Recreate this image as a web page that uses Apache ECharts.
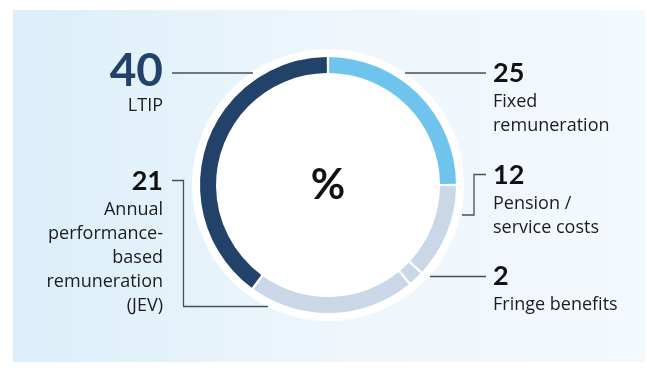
<!DOCTYPE html>
<html>
<head>
<meta charset="utf-8">
<script src="https://cdn.jsdelivr.net/npm/echarts@6/dist/echarts.min.js"></script>
<style>
  html, body { margin: 0; padding: 0; background: #ffffff; }
  #chart { width: 647px; height: 370px; }
</style>
</head>
<body>
<div id="chart"></div>
<script>
// Remuneration components, share of total (%), clockwise from 12 o'clock
const categories = ['Fixed remuneration', 'Pension / service costs', 'Fringe benefits',
                    'Annual performance-based remuneration (JEV)', 'LTIP'];
const values = [25, 12, 2, 21, 40];
// Caption lines printed beside each value
const captionLines = [
  ['Fixed', 'remuneration'],
  ['Pension /', 'service costs'],
  ['Fringe benefits'],
  ['Annual', 'performance-', 'based', 'remuneration', '(JEV)'],
  ['LTIP']
];
const centerLabel = '%';

// Palette
const segmentColors = ['#6ec4ed', '#cad7e6', '#cad7e6', '#cad7e6', '#22426a'];

const NUM_FONT = 'Lato, "Open Sans", sans-serif';
const TEXT_FONT = '"Open Sans", Lato, sans-serif';
const chart = echarts.init(document.getElementById('chart'), null, { renderer: 'canvas' });

const cx = 328, cy = 185;
const LEFT_X = 163, RIGHT_X = 493, LINE_H = 24;

// Label blocks: which side, vertical centre of the number, number style
const blocks = [
  { idx: 0, side: 'right', y: 73,  size: 27, color: '#111111' },
  { idx: 1, side: 'right', y: 175, size: 27, color: '#111111' },
  { idx: 2, side: 'right', y: 276, size: 27, color: '#111111' },
  { idx: 3, side: 'left',  y: 181, size: 27, color: '#111111' },
  { idx: 4, side: 'left',  y: 71,  size: 46, color: '#22426a' }
];

const graphics = [];

// panel background
graphics.push({
  type: 'rect', z: -10, silent: true,
  shape: { x: 13, y: 10, width: 632, height: 352 },
  style: {
    fill: new echarts.graphic.LinearGradient(0, 0, 1, 0, [
      { offset: 0, color: '#dbeef9' },
      { offset: 0.5, color: '#eef6fc' },
      { offset: 1, color: '#f4f9fd' }
    ])
  }
});

// leader lines
const leaders = [
  [[405, 73], [486, 73]],
  [[462, 215], [474, 215], [474, 174.5], [486, 174.5]],
  [[430, 276.5], [486, 276.5]],
  [[172, 180.5], [183.5, 180.5], [183.5, 306.5], [268, 306.5]],
  [[172, 73], [253, 73]]
];
leaders.forEach(pts => {
  graphics.push({
    type: 'polyline', silent: true, z: 5,
    shape: { points: pts },
    style: { stroke: '#4a4f57', lineWidth: 1.3, fill: null }
  });
});

// numbers and captions
blocks.forEach(b => {
  const x = b.side === 'right' ? RIGHT_X : LEFT_X;
  const align = b.side === 'right' ? 'left' : 'right';
  graphics.push({
    type: 'text', silent: true, z: 10,
    x: x, y: b.y,
    style: {
      text: String(values[b.idx]),
      font: `bold ${b.size}px ${NUM_FONT}`,
      fill: b.color, align: align, verticalAlign: 'middle'
    }
  });
  const firstY = b.y + (b.idx === 4 ? 35 : 29);
  captionLines[b.idx].forEach((line, k) => {
    graphics.push({
      type: 'text', silent: true, z: 10,
      x: x, y: firstY + k * LINE_H,
      style: {
        text: line,
        font: `18px ${TEXT_FONT}`,
        fill: '#1c1c1c', align: align, verticalAlign: 'middle'
      }
    });
  });
});

chart.setOption({
  animation: false,
  graphic: graphics,
  series: [
    {
      // white halo disc behind the ring
      type: 'pie', silent: true, z: 1,
      center: [cx, cy], radius: [0, 136],
      label: { show: false }, labelLine: { show: false },
      itemStyle: { color: '#ffffff' },
      data: [{ value: 1, name: '' }]
    },
    {
      type: 'pie', silent: true, z: 2,
      center: [cx, cy], radius: [112, 128],
      startAngle: 90, clockwise: true,
      padAngle: 1.1,
      label: {
        show: true, position: 'center',
        formatter: () => centerLabel,
        fontFamily: NUM_FONT, fontWeight: 'bold', fontSize: 42, color: '#111111'
      },
      labelLine: { show: false },
      emphasis: { disabled: true },
      data: categories.map((name, i) => ({
        name, value: values[i],
        itemStyle: { color: segmentColors[i] },
        label: { show: i === 0 }
      }))
    }
  ]
});
</script>
</body>
</html>
